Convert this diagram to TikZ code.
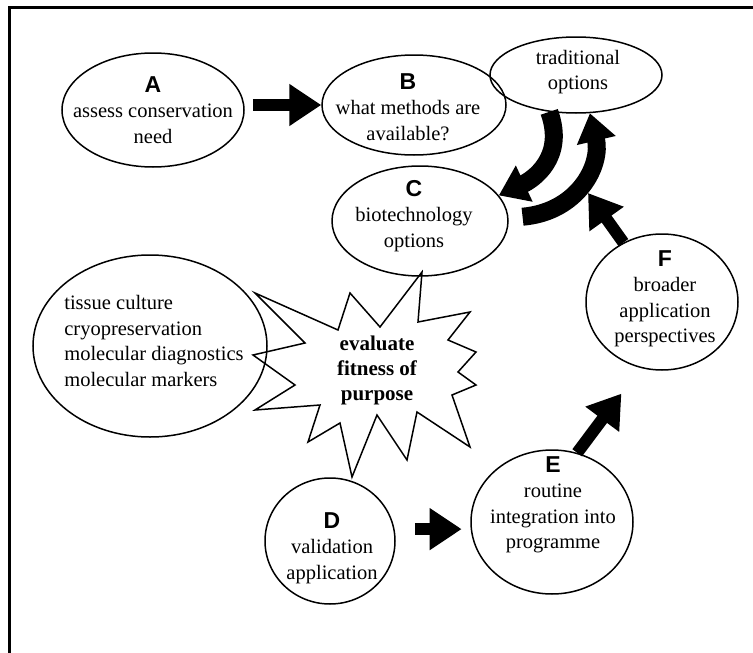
\documentclass[tikz,border=0pt]{standalone}
\usepackage{fontspec}
\setmainfont{Liberation Serif}
\newfontfamily\lettersf{Liberation Sans}
\usetikzlibrary{shapes.geometric,arrows.meta,calc}

\tikzset{
  stage/.style={draw, ellipse, line width=1.5pt, inner sep=0pt},
  txt/.style={align=center, inner sep=0pt, font=\fontsize{20.5}{25.5}\selectfont},
  fatarrow/.style={line width=12pt, -{Triangle[length=32pt,width=40pt]}},
  swirl/.style={line width=18pt, -{Triangle[length=28pt,width=38pt]}},
}
\newcommand{\stagelabel}[1]{{\lettersf\bfseries\fontsize{23}{25}\selectfont #1}}

\begin{document}
\begin{tikzpicture}[x=1pt,y=-1pt]
\useasboundingbox (0,0) rectangle (753,653);

% Frame (only top and left edges show)
\draw[line width=3pt] (9.5,653) -- (9.5,7) -- (753,7);

% Stages
\node[stage, minimum width=182pt, minimum height=114pt] (A) at (153,110) {};
\node[txt] (Atxt) at (A) {\stagelabel{A}\\assess conservation\\need};

\node[stage, minimum width=184pt, minimum height=100pt] (B) at (414,105) {};
\node[txt] (Btxt) at (408,107) {\stagelabel{B}\\what methods are\\available?};

\node[stage, minimum width=172pt, minimum height=76pt] (trad) at (576,75) {};
\node[txt] (tradtxt) at (578,72) {traditional\\options};

\node[stage, minimum width=176pt, minimum height=110pt] (C) at (420,221) {};
\node[txt] (Ctxt) at (414,216) {\stagelabel{C}\\biotechnology\\options};

\node[stage, minimum width=234pt, minimum height=182pt] (L) at (150,346) {};
\node[txt, align=left] (Ltxt) at ([shift={(4,-5)}]L) {tissue culture\\cryopreservation\\molecular diagnostics\\molecular markers};

\node[stage, minimum width=130pt, minimum height=126pt] (D) at (330,541) {};
\node[txt] (Dtxt) at (332,548) {\stagelabel{D}\\validation\\application};

\node[stage, minimum width=162pt, minimum height=144pt] (E) at (552,522) {};
\node[txt] (Etxt) at (553,505) {\stagelabel{E}\\routine\\integration into\\programme};

\node[stage, minimum width=152pt, minimum height=136pt] (F) at (662,302) {};
\node[txt] (Ftxt) at (665,299) {\stagelabel{F}\\broader\\application\\perspectives};

% Starburst
\draw[line width=1.5pt, line join=miter] (255,293) -- (338,330) -- (350,293) -- (380,327)
  -- (422,272) -- (418,322) -- (470,312) -- (448,340) -- (476,352) -- (458,372)
  -- (476,385) -- (452,395) -- (470,447) -- (417,412) -- (407,460) -- (377,415)
  -- (352,477) -- (340,423) -- (308,442) -- (320,405) -- (255,410) -- (295,385)
  -- (253,355) -- (305,343) -- cycle;
\node[txt, font=\fontsize{21}{25}\selectfont\bfseries] (eval) at (377,370) {evaluate\\fitness of\\purpose};

% Straight arrows
\draw[fatarrow, shorten <=8pt] (A.east |- B.west) -- (B.west);
\draw[fatarrow, shorten <=19pt, shorten >=9pt] (D.east |- E.185) -- (E.185);
\draw[fatarrow, shorten >=32pt] (E.70) -- (F.252);
\coordinate (Fend) at (588,193);
\draw[fatarrow] (F.123) -- (Fend);

% Swirl between traditional and biotechnology
\draw[swirl] (trad.234) .. controls (566,158) and (532,180) .. (C.18);
\draw[swirl, shorten <=14pt] (C.2) .. controls (578,212) and (602,165) .. (trad.290);

\end{tikzpicture}
\end{document}
